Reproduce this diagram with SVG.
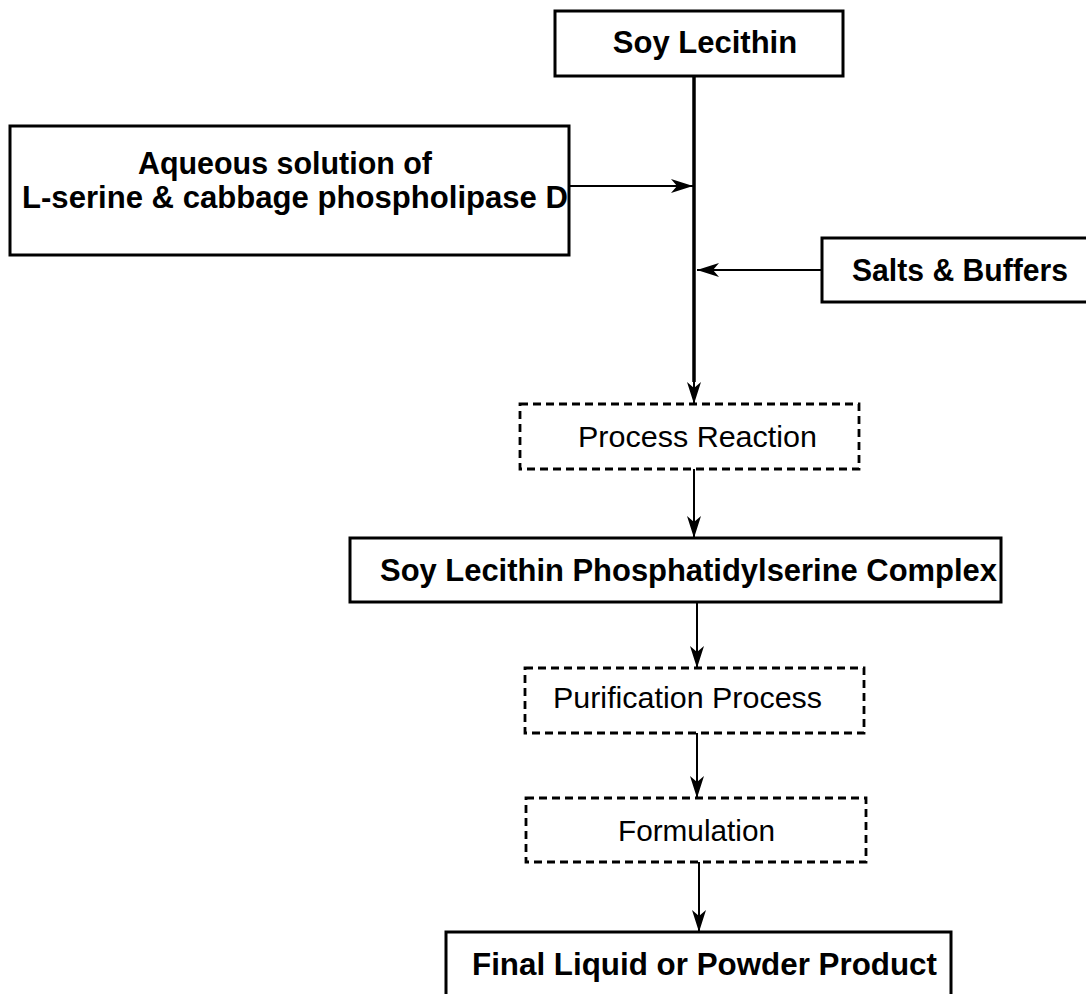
<svg xmlns="http://www.w3.org/2000/svg" width="1086" height="994" viewBox="0 0 1086 994">
<style>
.box{fill:#fff;stroke:#000;stroke-width:3}
.dbox{fill:#fff;stroke:#000;stroke-width:2.8;stroke-dasharray:8 5}
.b{font-family:"Liberation Sans",Arial,sans-serif;font-weight:bold;font-size:31px;fill:#000}
.r{font-family:"Liberation Sans",Arial,sans-serif;font-size:30px;fill:#000}
.c{stroke:#000;stroke-width:2;fill:none}
</style>
<defs>
<marker id="ah" markerWidth="22" markerHeight="14" refX="22" refY="7" orient="auto" markerUnits="userSpaceOnUse">
<path d="M0,0 L22,7 L0,14 L6,7 Z" fill="#000"/>
</marker>
</defs>
<g id="connectors">
<line x1="694" y1="76" x2="694" y2="382" stroke="#000" stroke-width="3.5"/>
<line class="c" x1="694" y1="380" x2="694" y2="404" marker-end="url(#ah)"/>
<line class="c" x1="569" y1="186" x2="693" y2="186" marker-end="url(#ah)"/>
<line class="c" x1="822" y1="270" x2="697" y2="270" marker-end="url(#ah)"/>
<line class="c" x1="694" y1="469" x2="694" y2="538" marker-end="url(#ah)"/>
<line class="c" x1="697" y1="602" x2="697" y2="668" marker-end="url(#ah)"/>
<line class="c" x1="697" y1="733" x2="697" y2="798" marker-end="url(#ah)"/>
<line class="c" x1="699" y1="862" x2="699" y2="932" marker-end="url(#ah)"/>
</g>
<g id="soy-lecithin">
<rect class="box" x="555" y="11" width="288" height="65"/>
<text class="b" x="705" y="53" text-anchor="middle">Soy Lecithin</text>
</g>
<g id="aqueous">
<rect class="box" x="10" y="126" width="559" height="129"/>
<text class="b" x="285" y="174" text-anchor="middle" textLength="294" lengthAdjust="spacingAndGlyphs">Aqueous solution of</text>
<text class="b" x="22" y="208" textLength="546" lengthAdjust="spacingAndGlyphs">L-serine &amp; cabbage phospholipase D</text>
</g>
<g id="salts">
<rect class="box" x="822" y="238" width="270" height="64"/>
<text class="b" x="852" y="281" textLength="216" lengthAdjust="spacingAndGlyphs">Salts &amp; Buffers</text>
</g>
<g id="process-reaction">
<rect class="dbox" x="520" y="404" width="339" height="65"/>
<text class="r" x="578" y="447" textLength="239" lengthAdjust="spacingAndGlyphs">Process Reaction</text>
</g>
<g id="complex">
<rect class="box" x="350" y="538" width="651" height="64"/>
<text class="b" x="380" y="581" textLength="617" lengthAdjust="spacingAndGlyphs">Soy Lecithin Phosphatidylserine Complex</text>
</g>
<g id="purification">
<rect class="dbox" x="525" y="668" width="339" height="65"/>
<text class="r" x="553" y="708" textLength="269" lengthAdjust="spacingAndGlyphs">Purification Process</text>
</g>
<g id="formulation">
<rect class="dbox" x="526" y="798" width="340" height="64"/>
<text class="r" x="618" y="841" textLength="157" lengthAdjust="spacingAndGlyphs">Formulation</text>
</g>
<g id="final">
<rect class="box" x="446" y="932" width="505" height="70"/>
<text class="b" x="472" y="975" textLength="465" lengthAdjust="spacingAndGlyphs">Final Liquid or Powder Product</text>
</g>
</svg>
